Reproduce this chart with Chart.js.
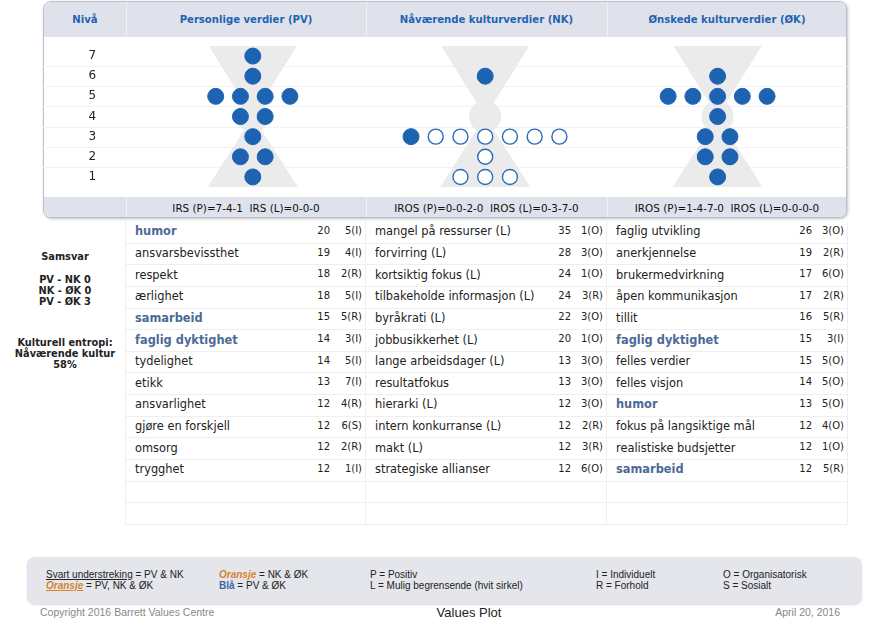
<!DOCTYPE html>
<html><head><meta charset="utf-8">
<script src="https://cdn.jsdelivr.net/npm/chart.js@4.4.1/dist/chart.umd.min.js"></script>
<style>
body{margin:0;width:890px;height:627px;position:relative;background:#fff;font-family:"DejaVu Sans",Verdana,sans-serif;overflow:hidden;color:#222}
.a{position:absolute;white-space:pre}
.band{left:0;width:802px;background:#dfe2eb}
.hd{font-weight:bold;color:#1f63b2;font-size:10.1px;text-align:center;line-height:12px}
.ft{font-size:10.4px;text-align:center;line-height:12px;color:#111}
.vl{width:1px;background:#eef0f5}
.cell{font-size:11.4px;line-height:14px}
.num{font-size:10px;line-height:12px;text-align:right}
.hl{height:1px;background:#efefef}
.tv{width:1px;background:#efefef}
.side{font-size:9.8px;font-weight:bold;text-align:center;width:130px;left:0;line-height:11px}
.lg{font-family:"Liberation Sans",Arial,sans-serif;font-size:10px;line-height:11px;color:#222}
</style></head><body>
<div id="root"></div>
<script>
// ---- data ----
const levels = [1, 2, 3, 4, 5, 6, 7];

const pvNames  = ["humor","ansvarsbevissthet","respekt","ærlighet","samarbeid","faglig dyktighet","tydelighet","etikk","ansvarlighet","gjøre en forskjell","omsorg","trygghet"];
const pvVotes  = [20,19,18,18,15,14,14,13,12,12,12,12];
const pvLevels = [5,4,2,5,5,3,5,7,4,6,2,1];
const pvTypes  = ["I","I","R","I","R","I","I","I","R","S","R","I"];

const nkNames  = ["mangel på ressurser (L)","forvirring (L)","kortsiktig fokus (L)","tilbakeholde informasjon (L)","byråkrati (L)","jobbusikkerhet (L)","lange arbeidsdager (L)","resultatfokus","hierarki (L)","intern konkurranse (L)","makt (L)","strategiske allianser"];
const nkVotes  = [35,28,24,24,22,20,13,13,12,12,12,12];
const nkLevels = [1,3,1,3,3,1,3,3,3,2,3,6];
const nkTypes  = ["O","O","O","R","O","O","O","O","O","R","R","O"];

const okNames  = ["faglig utvikling","anerkjennelse","brukermedvirkning","åpen kommunikasjon","tillit","faglig dyktighet","felles verdier","felles visjon","humor","fokus på langsiktige mål","realistiske budsjetter","samarbeid"];
const okVotes  = [26,19,17,17,16,15,15,14,13,12,12,12];
const okLevels = [3,2,6,2,5,3,5,5,5,4,1,5];
const okTypes  = ["O","R","O","R","R","I","O","O","O","O","O","R"];

const columnTitles = ["Personlige verdier (PV)","Nåværende kulturverdier (NK)","Ønskede kulturverdier (ØK)"];
const matchLabels = ["PV - NK","NK - ØK","PV - ØK"];
const entropyLabel = ["Kulturell entropi:","Nåværende kultur"];
const entropyValue = 58;

// ---- helpers ----
const cols = [
  {names:pvNames,votes:pvVotes,levels:pvLevels,types:pvTypes,prefix:"IRS",codes:["I","R","S"]},
  {names:nkNames,votes:nkVotes,levels:nkLevels,types:nkTypes,prefix:"IROS",codes:["I","R","O","S"]},
  {names:okNames,votes:okVotes,levels:okLevels,types:okTypes,prefix:"IROS",codes:["I","R","O","S"]}
];
const isLim = n => /\(L\)$/.test(n);
const base = n => n.replace(/ \(L\)$/,"");
const root = document.getElementById('root');
function el(cls, css, html){const d=document.createElement('div');d.className='a '+cls;d.style.cssText=css;if(html!==undefined)d.innerHTML=html;root.appendChild(d);return d;}

// ---- panel ----
const panel = el('', 'left:43px;top:1px;width:802px;height:215px;border:1px solid #b9c0d2;border-radius:8px;box-shadow:1px 1px 3px rgba(0,0,0,0.25);background:#fff;overflow:hidden');
function pel(cls, css, html){const d=document.createElement('div');d.className='a '+cls;d.style.cssText=css;if(html!==undefined)d.innerHTML=html;panel.appendChild(d);return d;}
pel('band','top:0;height:35px');
pel('band','top:195px;height:21px');
const colEdges = [0,82,322,563,803];
[82,322,563].forEach(x=>{pel('vl',`left:${x}px;top:0;height:35px`);pel('vl',`left:${x}px;top:195px;height:21px`);});
pel('hd',`left:0;width:82px;top:12px`,'Nivå');
columnTitles.forEach((t,k)=>pel('hd',`left:${colEdges[k+1]}px;width:${colEdges[k+2]-colEdges[k+1]}px;top:12px`,t));
cols.forEach((c,k)=>{
  const cnt = (lim)=>c.codes.map(code=>c.names.filter((n,i)=>isLim(n)===lim && c.types[i]===code).length).join('-');
  pel('ft',`left:${colEdges[k+1]}px;width:${colEdges[k+2]-colEdges[k+1]}px;top:200px`,`${c.prefix} (P)=${cnt(false)}  ${c.prefix} (L)=${cnt(true)}`);
});

// ---- table ----
const tTop=221, rowH=21.64, nRows=14, tEdges=[125,365,606,847];
for(let r=0;r<nRows;r++) el('hl',`left:125px;width:722px;top:${Math.round(tTop+rowH*(r+1))}px`);
tEdges.forEach(x=>el('tv',`left:${x}px;top:${tTop}px;height:${Math.round(rowH*nRows)}px`));
const setPV = new Set(pvNames), setNK = new Set(nkNames.map(base)), setOK = new Set(okNames);
cols.forEach((c,k)=>{
  const L=tEdges[k], R=tEdges[k+1];
  c.names.forEach((n,i)=>{
    const cy = tTop+rowH*(i+0.5);
    const b = base(n);
    const blue = (k!==1) && setPV.has(b) && setOK.has(b) && !setNK.has(b);
    el('cell',`left:${L+10}px;top:${(cy-7.5).toFixed(1)}px;${blue?'font-weight:bold;color:#4b6a97;':''}`, n);
    el('num',`left:${R-60}px;width:${R-35-(R-60)}px;top:${(cy-7).toFixed(1)}px`, String(c.votes[i]));
    el('num',`left:${R-40}px;width:37px;top:${(cy-7).toFixed(1)}px`, `${c.levels[i]}(${c.types[i]})`);
  });
});

// ---- side text ----
el('side','top:251px','Samsvar');
const pvnk = pvNames.filter(n=>setNK.has(n)).length;
const nkok = okNames.filter(n=>setNK.has(n)).length;
const pvok = pvNames.filter(n=>setOK.has(n)).length;
el('side','top:274px',`${matchLabels[0]} ${pvnk}<br>${matchLabels[1]} ${nkok}<br>${matchLabels[2]} ${pvok}`);
el('side','top:337px',`${entropyLabel[0]}<br>${entropyLabel[1]}<br>${entropyValue}%`);

// ---- legend ----
el('','left:27px;top:557px;width:835px;height:47px;background:#e4e6ec;border-radius:8px;box-shadow:0 1px 2px rgba(0,0,0,0.15)');
el('lg','left:46px;top:569px','<u>Svart understreking</u> = PV &amp; NK');
el('lg','left:46px;top:580px','<u style="color:#d9822b;font-weight:bold;font-style:italic">Oransje</u> = PV, NK &amp; ØK');
el('lg','left:219px;top:569px','<span style="color:#d9822b;font-weight:bold;font-style:italic">Oransje</span> = NK &amp; ØK');
el('lg','left:219px;top:580px','<span style="color:#3d66a6;font-weight:bold">Blå</span> = PV &amp; ØK');
el('lg','left:370px;top:569px','P = Positiv');
el('lg','left:370px;top:580px','L = Mulig begrensende (hvit sirkel)');
el('lg','left:596px;top:569px','I = Individuelt');
el('lg','left:596px;top:580px','R = Forhold');
el('lg','left:723px;top:569px','O = Organisatorisk');
el('lg','left:723px;top:580px','S = Sosialt');
el('lg','left:40px;top:607px;color:#888;font-size:10.5px','Copyright 2016 Barrett Values Centre');
el('lg','left:369px;width:200px;text-align:center;top:605px;font-size:13px;line-height:15px;color:#222','Values Plot');
el('lg','left:640px;width:200px;text-align:right;top:607px;color:#888;font-size:10.5px','April 20, 2016');

// ---- chart ----
const cv = document.createElement('canvas');
cv.width=804; cv.height=159;
cv.style.cssText='position:absolute;left:43px;top:37px;width:804px;height:159px';
root.appendChild(cv);

const dotStep = 0.1064;
const positivePts=[], limitingPts=[];
cols.forEach((c,k)=>{
  levels.forEach(lv=>{
    const p = c.names.filter((n,i)=>c.levels[i]===lv && !isLim(n)).length;
    const l = c.names.filter((n,i)=>c.levels[i]===lv && isLim(n)).length;
    const n = p+l;
    for(let i=0;i<n;i++){
      const pt = {x:k+0.5+(i-(n-1)/2)*dotStep, y:lv};
      (i<p?positivePts:limitingPts).push(pt);
    }
  });
});

const bgPlugin = {
  id:'bg',
  beforeDatasetsDraw(chart){
    const {ctx, scales:{x,y}} = chart;
    ctx.save();
    ctx.strokeStyle='#f2f2f2'; ctx.lineWidth=1;
    for(let v=1.5; v<7.5; v++){
      const py=Math.round(y.getPixelForValue(v))+0.5;
      ctx.beginPath();ctx.moveTo(0,py);ctx.lineTo(chart.width,py);ctx.stroke();
    }
    ctx.fillStyle='#ebebeb';
    for(let k=0;k<3;k++){
      const cx=x.getPixelForValue(k+0.5), top=y.getPixelForValue(7.5), bot=y.getPixelForValue(0.5), mid=y.getPixelForValue(4);
      ctx.beginPath();ctx.moveTo(cx-44,top);ctx.lineTo(cx+44,top);ctx.lineTo(cx,mid);ctx.closePath();ctx.fill();
      ctx.beginPath();ctx.moveTo(cx,mid);ctx.lineTo(cx+45,bot);ctx.lineTo(cx-45,bot);ctx.closePath();ctx.fill();
      ctx.beginPath();ctx.arc(cx,mid,16,0,Math.PI*2);ctx.fill();
    }
    ctx.fillStyle='#222'; ctx.font='12px "DejaVu Sans"'; ctx.textAlign='center'; ctx.textBaseline='middle';
    levels.forEach(lv=>ctx.fillText(String(lv), x.getPixelForValue(-0.19), y.getPixelForValue(lv)));
    ctx.restore();
  }
};

new Chart(cv,{
  type:'scatter',
  data:{datasets:[
    {label:'Positiv',data:positivePts,pointRadius:8,pointHoverRadius:8,backgroundColor:'#1e63b2',borderColor:'#1e63b2',borderWidth:1,clip:false},
    {label:'Mulig begrensende',data:limitingPts,pointRadius:7.5,pointHoverRadius:7.5,backgroundColor:'#ffffff',borderColor:'#2a6bb8',borderWidth:1.4,clip:false}
  ]},
  options:{
    responsive:false, animation:false, devicePixelRatio:1,
    layout:{padding:0},
    plugins:{legend:{display:false},tooltip:{enabled:false}},
    scales:{
      x:{type:'linear',min:-0.364,max:3.018,display:false},
      y:{type:'linear',min:0.5,max:7.5,display:false}
    }
  },
  plugins:[bgPlugin]
});
</script>
</body></html>
